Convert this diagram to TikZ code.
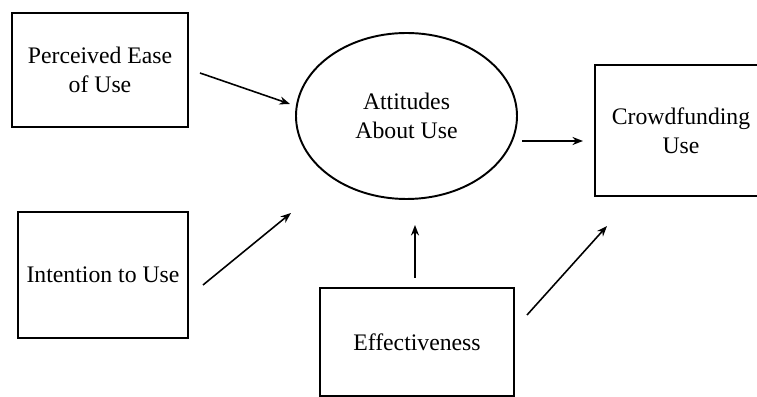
\documentclass[tikz,border=0pt]{standalone}
\usepackage{fontspec}
\setmainfont{Liberation Serif}
\usetikzlibrary{arrows.meta,shapes.geometric}

\begin{document}
\begin{tikzpicture}[
  box/.style={draw=black, line width=1.1pt, rectangle, minimum width=#1, align=center,
              font=\fontsize{13.5}{16.4}\selectfont, inner sep=0pt},
  oval/.style={draw=black, line width=1.1pt, ellipse, align=center,
               font=\fontsize{13.5}{16.4}\selectfont, inner sep=0pt},
  link/.style={line width=0.9pt, -{Stealth[length=6pt,width=4.6pt]}}
]

%─────────────
% Canvas (757 x 397 px, 1 px = 0.02 cm)
%─────────────
\useasboundingbox (0,0) rectangle (15.14,7.94);
\clip (0,0) rectangle (15.14,7.94);

%─────────────
% Boxes and the oval
%─────────────
\node[box=3.52cm, minimum height=2.28cm] (peu) at (2.00,6.54) {Perceived Ease\\of Use};
\node[box=3.40cm, minimum height=2.52cm] (itu) at (2.06,2.44) {Intention to Use};
\node[oval, minimum width=4.42cm, minimum height=3.32cm] (att) at (8.13,5.62) {Attitudes\\About Use};
\node[box=3.44cm, minimum height=2.62cm] (cfu) at (13.62,5.33) {Crowdfunding\\Use};
\node[box=3.88cm, minimum height=2.16cm] (eff) at (8.34,1.10) {Effectiveness};

%─────────────
% Arrow ends (arrows float free of the shapes)
%─────────────
\coordinate (peu-out) at (4.00,6.48);
\coordinate (att-in1) at (5.80,5.86);
\coordinate (itu-out) at (4.06,2.24);
\coordinate (att-in2) at (5.82,3.68);
\coordinate (eff-out1) at (8.30,2.38);
\coordinate (att-in3) at (8.30,3.44);
\coordinate (att-out) at (10.44,5.12);
\coordinate (cfu-in1) at (11.66,5.12);
\coordinate (eff-out2) at (10.54,1.64);
\coordinate (cfu-in2) at (12.14,3.42);

%─────────────
% Arrows
%─────────────
\draw[link] (peu-out) -- (att-in1);
\draw[link] (itu-out) -- (att-in2);
\draw[link] (eff-out1) -- (att-in3);
\draw[link] (att-out) -- (cfu-in1);
\draw[link] (eff-out2) -- (cfu-in2);

\end{tikzpicture}
\end{document}
